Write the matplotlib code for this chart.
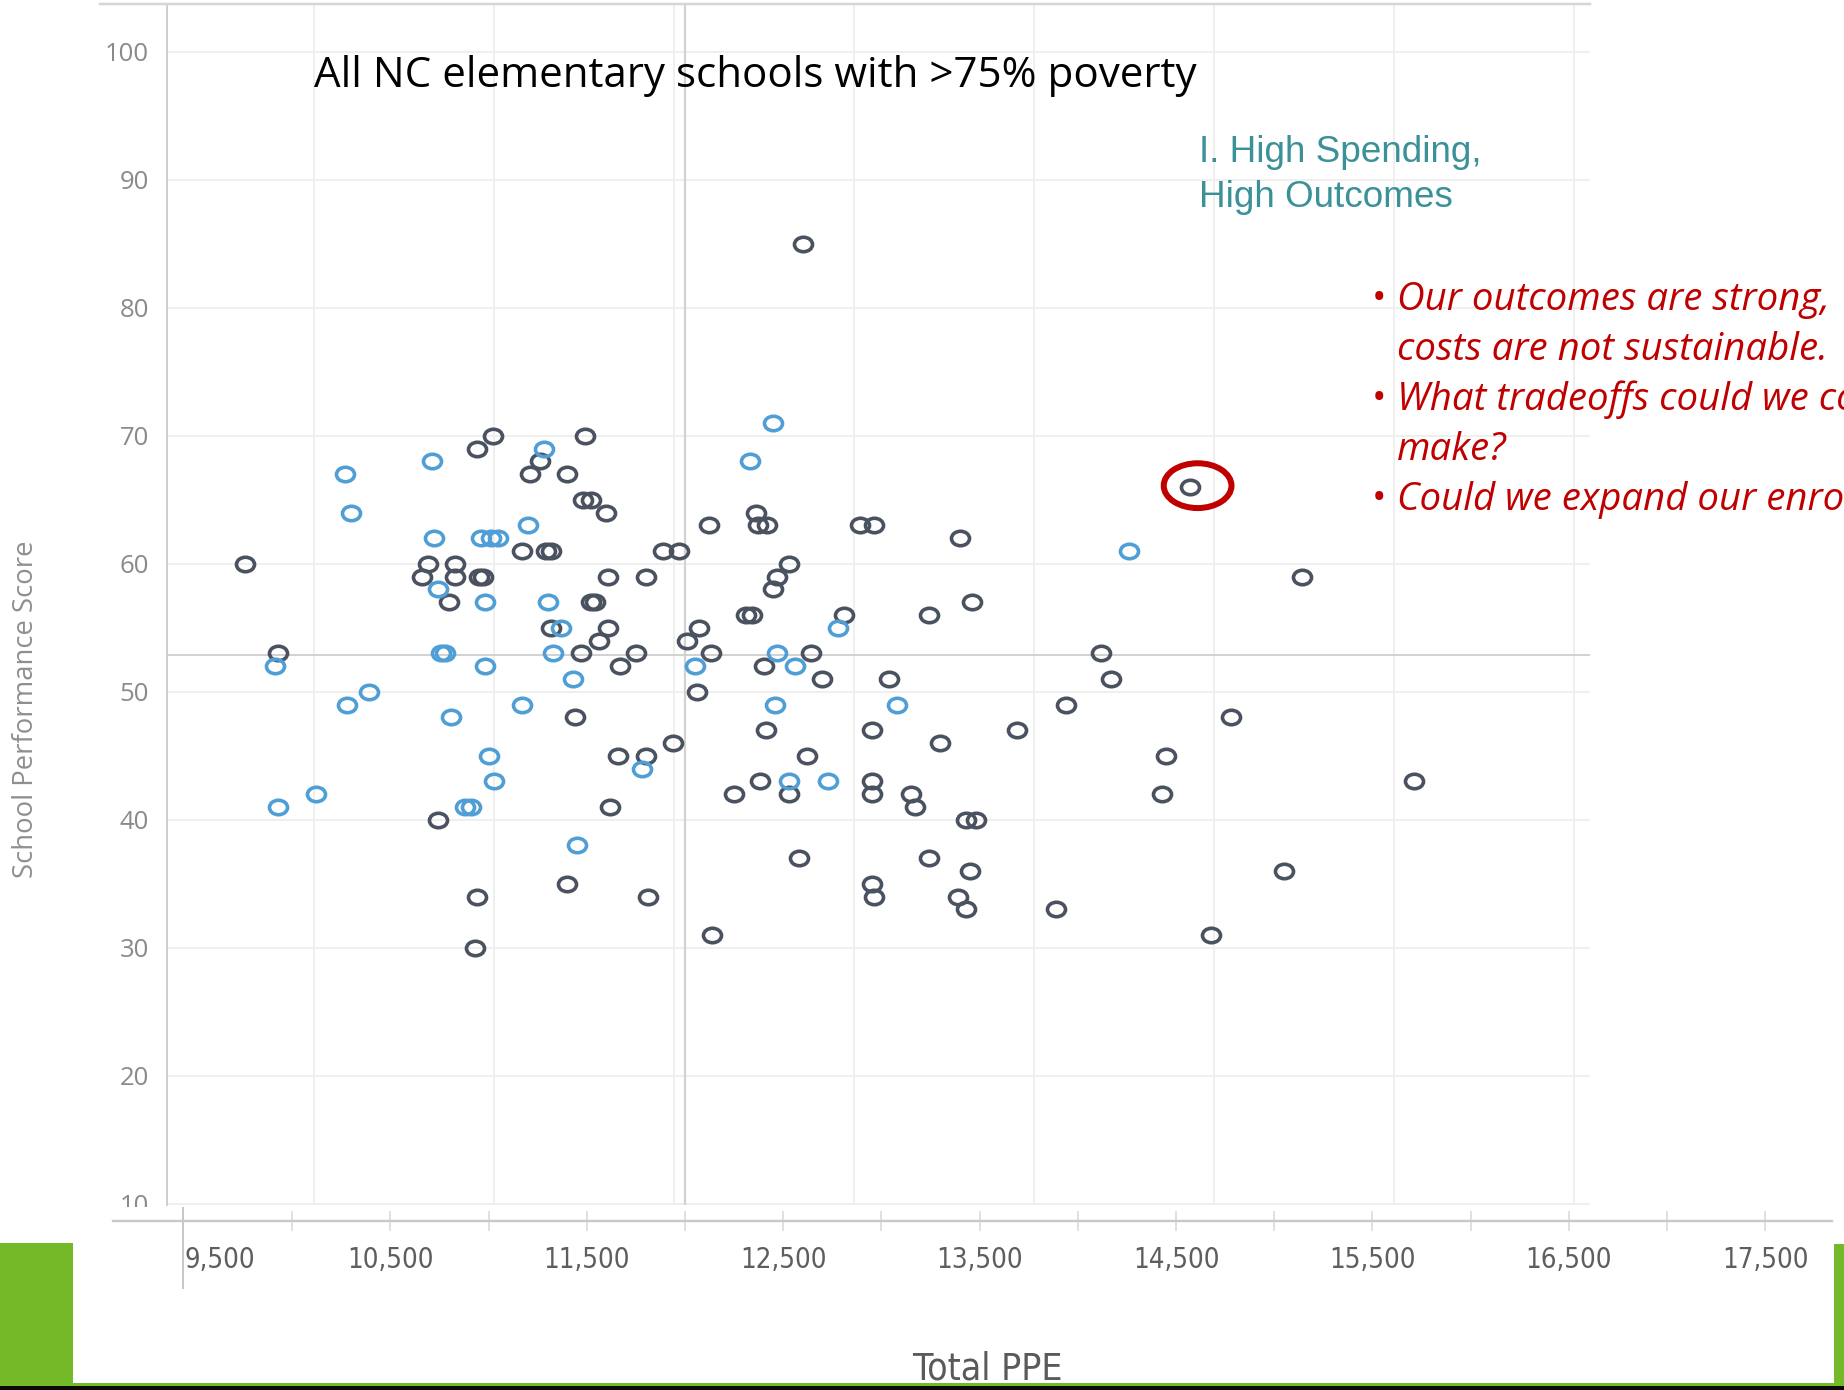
import matplotlib
matplotlib.use("Agg")
import matplotlib.pyplot as plt
from matplotlib.patches import Ellipse, Rectangle
from matplotlib.lines import Line2D
from matplotlib.path import Path
from matplotlib.transforms import Affine2D

W, H, DPI = 1844, 1390, 100
PX = 72.0 / DPI  # points per pixel

# ---- data: per-pupil expenditure (Total PPE) vs. School Performance Score ----
dark_ppe = [9760, 9930, 12600, 11020, 10940, 11490, 11210, 11260, 11400, 11480,
            11520, 11600, 11170, 11290, 11320, 10690, 10830, 10660, 10830, 10950,
            10970, 10800, 11520, 11540, 11320, 11610, 11560, 11470, 11750, 11670,
            11610, 11800, 11890, 11970, 12120, 12010, 12070, 12130, 12060, 11440,
            11940, 11660, 11800, 11620, 10740, 11400, 10940, 11810, 10930, 12140,
            12250, 12380, 12360, 12370, 12420, 12310, 12340, 12530, 12470, 12450,
            12400, 12410, 12890, 12960, 13400, 13460, 13240, 12810, 12640, 12700,
            13040, 14120, 14170, 13940, 14780, 12950, 13690, 13300, 12620, 14450,
            12950, 12950, 13150, 13170, 13430, 13480, 14430, 12580, 13240, 13450,
            12950, 12960, 13390, 13430, 13890, 14680, 15050, 15140, 15710, 14570,
            12530]
dark_score = [60, 53, 85, 70, 69, 70, 67, 68, 67, 65,
              65, 64, 61, 61, 61, 60, 60, 59, 59, 59,
              59, 57, 57, 57, 55, 55, 54, 53, 53, 52,
              59, 59, 61, 61, 63, 54, 55, 53, 50, 48,
              46, 45, 45, 41, 40, 35, 34, 34, 30, 31,
              42, 43, 64, 63, 63, 56, 56, 60, 59, 58,
              52, 47, 63, 63, 62, 57, 56, 56, 53, 51,
              51, 53, 51, 49, 48, 47, 47, 46, 45, 45,
              43, 42, 42, 41, 40, 40, 42, 37, 37, 36,
              35, 34, 34, 33, 33, 31, 36, 59, 43, 66,
              42]

blue_ppe = [9910, 9930, 10120, 10270, 10300, 10280, 10390, 10710, 10720, 10740,
            10760, 10780, 10810, 10880, 10910, 10960, 11010, 11050, 10980, 10980,
            11000, 11030, 11170, 11200, 11280, 11300, 11330, 11370, 11430, 11450,
            11780, 12050, 12330, 12450, 12470, 12560, 12460, 12530, 12730, 12780,
            13080, 14260]
blue_score = [52, 41, 42, 67, 64, 49, 50, 68, 62, 58,
              53, 53, 48, 41, 41, 62, 62, 62, 57, 52,
              45, 43, 49, 63, 69, 57, 53, 55, 51, 38,
              44, 52, 68, 71, 53, 52, 49, 43, 43, 55,
              49, 61]

y_ticks = [10, 20, 30, 40, 50, 60, 70, 80, 90, 100]
x_label_values = [10500, 11500, 12500, 13500, 14500, 15500, 16500, 17500]
x_tick_labels = ["10,500", "11,500", "12,500", "13,500", "14,500", "15,500",
                 "16,500", "17,500"]
first_label_value = 9500
first_label = "9,500"
avg_ppe = 12000
avg_score = 52.9
highlight_ppe, highlight_score = 14570, 66

title = "All NC elementary schools with >75% poverty"
quadrant_lines = ["I. High Spending,", "High Outcomes"]
note_lines = [("\u2022", "Our outcomes are strong,"),
              ("", "costs are not sustainable."),
              ("\u2022", "What tradeoffs could we consider"),
              ("", "make?"),
              ("\u2022", "Could we expand our enrollment?")]

DARK = "#4a5260"
BLUE = "#4f9fd6"
GRID = "#eeeeee"
REF = "#d2d2d2"
RED = "#c00000"
TEAL = "#3a9198"
GREEN = "#74b928"

fig = plt.figure(figsize=(W / DPI, H / DPI), dpi=DPI)
fig.patch.set_facecolor("white")


def fx(x):
    return x / W


def fy(y):
    return 1 - y / H


def box(l, t, r, b):
    return [fx(l), fy(b), (r - l) / W, (b - t) / H]


def fit_width(t, width_px):
    r = fig.canvas.get_renderer()
    w = t.get_window_extent(r).width
    t.set_fontsize(t.get_fontsize() * width_px / w)
    return t


plot_box = box(167, 3.5, 1590, 1205)
YLIM = (9.9, 103.77)
XLIM = (9362.5, 16608.0)

# background grid of the scatter panel
gax = fig.add_axes(plot_box)
gax.set_xlim(9183.3, 17088.9)
gax.set_ylim(*YLIM)
for v in range(10000, 17001, 1000):
    gax.axvline(v, color=GRID, lw=1.8 * PX, zorder=0)
for s in y_ticks:
    gax.axhline(s, color=GRID, lw=1.8 * PX, zorder=0)
gax.axis("off")

# scatter panel
ax = fig.add_axes(plot_box, facecolor="none")
ax.set_xlim(*XLIM)
ax.set_ylim(*YLIM)
for side in ("top", "right", "bottom"):
    ax.spines[side].set_visible(False)
ax.spines["left"].set_color("#cfcfcf")
ax.spines["left"].set_linewidth(2 * PX)
ax.set_xticks([])
ax.set_yticks(y_ticks)
ax.tick_params(axis="y", length=0, pad=18 * PX, labelsize=18.5,
               labelcolor="#8a8a8a")
for lbl in ax.get_yticklabels():
    lbl.set_fontfamily("Open Sans")

ax.axvline(avg_ppe, color=REF, lw=2.2 * PX, zorder=1)
ax.axhline(avg_score, color=REF, lw=2 * PX, zorder=1)

ring = Path.unit_circle().transformed(Affine2D().scale(1.0, 0.8))
ax.plot(dark_ppe, dark_score, ls="none", marker=ring, ms=13.0, mfc="none",
        mec=DARK, mew=2.6, zorder=3)
ax.plot(blue_ppe, blue_score, ls="none", marker=ring, ms=13.0, mfc="none",
        mec=BLUE, mew=2.6, zorder=3)

ax.add_patch(Ellipse((highlight_ppe + 40, highlight_score + 0.1), 345, 3.5,
                     fill=False, ec=RED, lw=6 * PX, zorder=4))

ylab = ax.set_ylabel("School Performance Score", color="#8f8f8f",
                     family="Open Sans", fontsize=18, va="center")
ax.yaxis.set_label_coords((26 - 167) / 1423, (1205 - 709) / 1201.5)
r = fig.canvas.get_renderer()
hgt = ylab.get_window_extent(r).height
ylab.set_fontsize(ylab.get_fontsize() * 337 / hgt)

# separate PPE axis strip below the panel
lax = fig.add_axes(box(113, 1207, 1832, 1221), facecolor="white")
lax.set_xlim(9087.5, 17840.0)
lax.set_ylim(0, 1)
for side in ("top", "right", "left"):
    lax.spines[side].set_visible(False)
lax.spines["bottom"].set_color("#c9c9c9")
lax.spines["bottom"].set_linewidth(2.4 * PX)
lax.set_yticks([])
lax.set_xticks(x_label_values, x_tick_labels)
lax.set_xticks(list(range(10000, 17501, 1000)), minor=True)
tick_len = 20 * PX
lax.tick_params(axis="x", which="both", direction="inout", length=tick_len,
                width=2 * PX, color="#e0e0e0")
lax.tick_params(axis="x", which="major", pad=37 * PX, labelcolor="#5e5e5e")

probe = fig.text(0, 0, "10,500", family="DejaVu Sans", fontstretch="condensed",
                 fontsize=18)
fit_width(probe, 87)
lab_size = probe.get_fontsize()
probe.remove()
for lbl in lax.get_xticklabels():
    lbl.set_fontfamily("DejaVu Sans")
    lbl.set_fontstretch("condensed")
    lbl.set_fontsize(lab_size)
    lbl.set_va("baseline")
lax.text(9454, -(1268 - 1221) / 14, first_label, transform=lax.get_xaxis_transform(),
         ha="left", va="baseline", family="DejaVu Sans", fontstretch="condensed",
         fontsize=lab_size, color="#5e5e5e", clip_on=False)

xl = fig.text(fx(988), fy(1380), "Total PPE", ha="center", va="baseline",
              family="DejaVu Sans", fontstretch="condensed", fontsize=20,
              color="#5a5a5a")
fit_width(xl, 150)

# frame lines
fig.add_artist(Line2D([fx(100), fx(1590)], [fy(3.5), fy(3.5)], color="#d6d6d6",
                      lw=2.5 * PX))
fig.add_artist(Line2D([fx(183), fx(183)], [fy(1208), fy(1288)], color="#c8c8c8",
                      lw=2 * PX))

# slide decorations
fig.add_artist(Rectangle((0, fy(1384)), fx(73), (1384 - 1243) / H,
                         transform=fig.transFigure, color=GREEN, lw=0))
fig.add_artist(Rectangle((fx(1834), fy(1384)), fx(10), (1384 - 1244) / H,
                         transform=fig.transFigure, color=GREEN, lw=0))
fig.add_artist(Rectangle((0, fy(1385.5)), 1, 3 / H, transform=fig.transFigure,
                         color=GREEN, lw=0))
fig.add_artist(Rectangle((0, 0), 1, 4.5 / H, transform=fig.transFigure,
                         color="#0a0a0a", lw=0))

# title and annotations
t = fig.text(fx(314), fy(87), title, ha="left", va="baseline",
             family="Open Sans", fontsize=29, color="black")
fit_width(t, 883)

q1 = fig.text(fx(1199), fy(162), quadrant_lines[0], ha="left", va="baseline",
              family="Liberation Sans", fontsize=25, color=TEAL)
fit_width(q1, 283)
fig.text(fx(1199), fy(207), quadrant_lines[1], ha="left", va="baseline",
         family="Liberation Sans", fontsize=q1.get_fontsize(), color=TEAL)

n0 = fig.text(fx(1397), fy(310), note_lines[0][1], ha="left", va="baseline",
              family="Open Sans", style="italic", fontsize=26, color=RED)
fit_width(n0, 434)
note_size = n0.get_fontsize()
for i, (bullet, line) in enumerate(note_lines):
    base = 310 + 50 * i
    if i > 0:
        fig.text(fx(1397), fy(base), line, ha="left", va="baseline",
                 family="Open Sans", style="italic", fontsize=note_size, color=RED)
    if bullet:
        fig.text(fx(1379), fy(base), bullet, ha="center", va="baseline",
                 family="Open Sans", fontsize=note_size, color=RED)

fig.savefig("out.png", dpi=DPI)
